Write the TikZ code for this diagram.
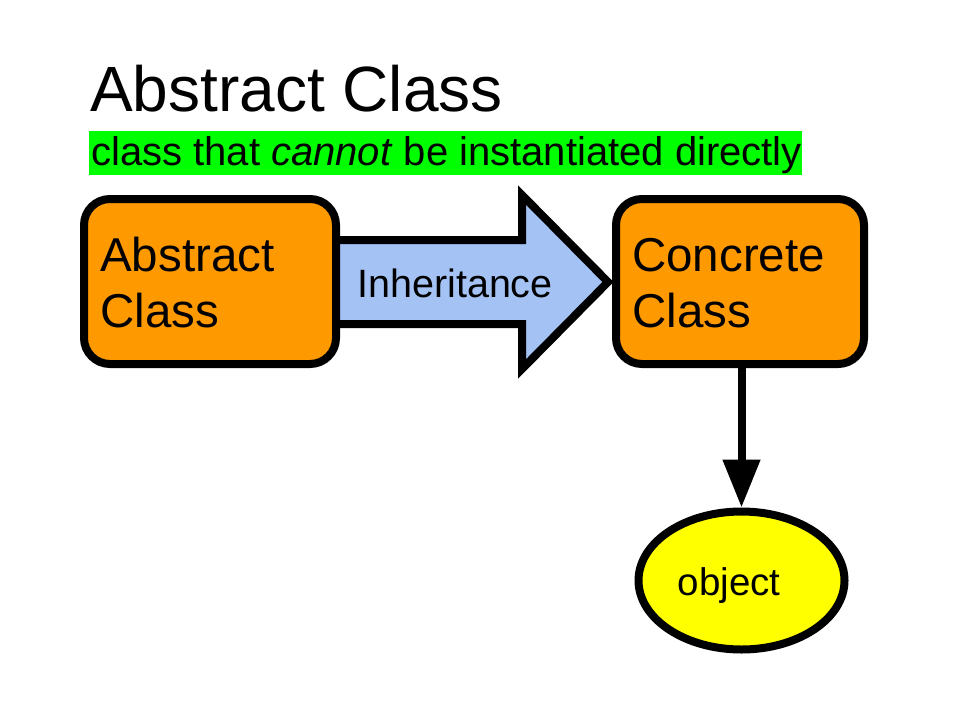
\documentclass[tikz,border=0pt]{standalone}
\usepackage{fontspec}
\setmainfont{Liberation Sans}
\usetikzlibrary{arrows.meta,shapes.geometric}
\definecolor{boxorange}{HTML}{FF9900}
\definecolor{arrowblue}{HTML}{A4C2F4}
\definecolor{hlgreen}{HTML}{00FF00}
\definecolor{objyellow}{HTML}{FFFF00}
\tikzset{
  classbox/.style={draw=black, line width=8pt, fill=boxorange, rounded corners=26pt, inner sep=0pt},
  boxtext/.style={anchor=base west, inner sep=0pt, font=\fontsize{47.5}{55}\selectfont},
  objnode/.style={draw=black, line width=8pt, fill=objyellow, ellipse, inner sep=0pt, minimum width=206pt, minimum height=138pt},
  fatarrow/.style={draw=black, line width=8pt, fill=arrowblue, line join=miter},
  link/.style={draw=black, line width=8pt, -{Triangle[length=48pt,width=36pt]}},
}
\begin{document}
\begin{tikzpicture}[x=1pt,y=-1pt]
\useasboundingbox (0,0) rectangle (960,720);
% title
\node[anchor=base west, inner sep=0pt, font=\fontsize{64}{72}\selectfont] (title) at (90,111) {Abstract Class};
\node[anchor=north west, fill=hlgreen, minimum width=713pt, minimum height=44pt, inner sep=0pt] (hl) at (89,131) {};
\node[anchor=base west, inner sep=0pt, font=\fontsize{40}{46}\selectfont] (sub) at (91,165) {class that \textit{cannot} be instantiated directly};
% inheritance arrow
\draw[fatarrow] (330,240) -- (522,240) -- (522,195) -- (608,282) -- (522,369) -- (522,324) -- (330,324) -- cycle;
\node[anchor=base, inner sep=0pt, font=\fontsize{39.5}{45}\selectfont] (inh) at (455,297) {Inheritance};
% boxes
\node[classbox, minimum width=252pt, minimum height=165pt] (abs) at (210,281.5) {};
\node[boxtext] (abstext1) at (100,271) {Abstract};
\node[boxtext] (abstext2) at (100,327) {Class};
\node[classbox, minimum width=248pt, minimum height=165pt] (con) at (740,281.5) {};
\node[boxtext] (context1) at (632,271) {Concrete};
\node[boxtext] (context2) at (632,327) {Class};
% object
\node[objnode] (obj) at (741.5,580.5) {};
\node[anchor=base, inner sep=0pt, font=\fontsize{38.5}{44}\selectfont] (objtext) at (729,595) {object};
\draw[link] (con.south -| obj.north) -- (obj.north);
\end{tikzpicture}
\end{document}
